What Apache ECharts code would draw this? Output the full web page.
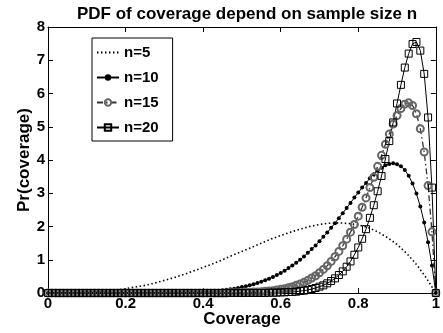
<!DOCTYPE html>
<html>
<head>
<meta charset="utf-8">
<script src="https://cdn.jsdelivr.net/npm/echarts@6/dist/echarts.min.js"></script>
<style>
  html, body { margin: 0; padding: 0; background: #fff; }
  #chart { width: 443px; height: 333px; }
</style>
</head>
<body>
<div id="chart"></div>
<script>
// coverage grid for the marked curves (step 0.01)
var cov101 = [
  0, 0.01, 0.02, 0.03, 0.04, 0.05, 0.06, 0.07, 0.08, 0.09,
  0.10, 0.11, 0.12, 0.13, 0.14, 0.15, 0.16, 0.17, 0.18, 0.19,
  0.20, 0.21, 0.22, 0.23, 0.24, 0.25, 0.26, 0.27, 0.28, 0.29,
  0.30, 0.31, 0.32, 0.33, 0.34, 0.35, 0.36, 0.37, 0.38, 0.39,
  0.40, 0.41, 0.42, 0.43, 0.44, 0.45, 0.46, 0.47, 0.48, 0.49,
  0.50, 0.51, 0.52, 0.53, 0.54, 0.55, 0.56, 0.57, 0.58, 0.59,
  0.60, 0.61, 0.62, 0.63, 0.64, 0.65, 0.66, 0.67, 0.68, 0.69,
  0.70, 0.71, 0.72, 0.73, 0.74, 0.75, 0.76, 0.77, 0.78, 0.79,
  0.80, 0.81, 0.82, 0.83, 0.84, 0.85, 0.86, 0.87, 0.88, 0.89,
  0.90, 0.91, 0.92, 0.93, 0.94, 0.95, 0.96, 0.97, 0.98, 0.99,
  1.00
];
// coverage grid for the dotted n=5 curve
var cov41 = [
  0, 0.025, 0.05, 0.075, 0.1, 0.125, 0.15, 0.175, 0.2, 0.225,
  0.25, 0.275, 0.3, 0.325, 0.35, 0.375, 0.4, 0.425, 0.45, 0.475,
  0.5, 0.525, 0.55, 0.575, 0.6, 0.625, 0.65, 0.675, 0.7, 0.725,
  0.75, 0.775, 0.8, 0.825, 0.85, 0.875, 0.9, 0.925, 0.95, 0.975,
  1
];

var pdf5 = [
  0, 0, 0, 0.01, 0.02, 0.03, 0.06, 0.09, 0.13, 0.18,
  0.23, 0.30, 0.38, 0.46, 0.56, 0.66, 0.77, 0.88, 1.00, 1.13,
  1.25, 1.37, 1.50, 1.62, 1.73, 1.83, 1.92, 2.00, 2.06, 2.10,
  2.11, 2.09, 2.05, 1.97, 1.84, 1.67, 1.46, 1.19, 0.86, 0.46,
  0
];
var pdf10 = [
  0, 0, 0, 0, 0, 0, 0, 0, 0, 0,
  0, 0, 0, 0, 0, 0, 0, 0, 0, 0,
  0, 0, 0, 0, 0, 0, 0, 0, 0, 0,
  0, 0.01, 0.01, 0.01, 0.01, 0.01, 0.02, 0.02, 0.02, 0.03,
  0.04, 0.04, 0.05, 0.06, 0.07, 0.08, 0.10, 0.11, 0.13, 0.15,
  0.18, 0.20, 0.23, 0.26, 0.30, 0.34, 0.38, 0.43, 0.48, 0.54,
  0.60, 0.67, 0.75, 0.83, 0.91, 1.00, 1.10, 1.21, 1.32, 1.43,
  1.56, 1.69, 1.82, 1.96, 2.10, 2.25, 2.40, 2.56, 2.71, 2.87,
  3.02, 3.17, 3.31, 3.45, 3.57, 3.68, 3.77, 3.84, 3.88, 3.90,
  3.87, 3.81, 3.70, 3.53, 3.29, 2.99, 2.60, 2.12, 1.53, 0.83,
  0
];
var pdf15 = [
  0, 0, 0, 0, 0, 0, 0, 0, 0, 0,
  0, 0, 0, 0, 0, 0, 0, 0, 0, 0,
  0, 0, 0, 0, 0, 0, 0, 0, 0, 0,
  0, 0, 0, 0, 0, 0, 0, 0, 0, 0,
  0, 0, 0, 0, 0, 0, 0, 0.01, 0.01, 0.01,
  0.01, 0.02, 0.02, 0.03, 0.03, 0.04, 0.05, 0.06, 0.07, 0.09,
  0.11, 0.13, 0.16, 0.19, 0.23, 0.27, 0.32, 0.38, 0.45, 0.52,
  0.61, 0.71, 0.82, 0.95, 1.09, 1.25, 1.42, 1.62, 1.83, 2.06,
  2.31, 2.58, 2.86, 3.17, 3.48, 3.81, 4.14, 4.47, 4.78, 5.08,
  5.34, 5.55, 5.68, 5.72, 5.64, 5.39, 4.94, 4.24, 3.23, 1.84,
  0
];
var pdf20 = [
  0, 0, 0, 0, 0, 0, 0, 0, 0, 0,
  0, 0, 0, 0, 0, 0, 0, 0, 0, 0,
  0, 0, 0, 0, 0, 0, 0, 0, 0, 0,
  0, 0, 0, 0, 0, 0, 0, 0, 0, 0,
  0, 0, 0, 0, 0, 0, 0, 0, 0, 0,
  0, 0, 0, 0, 0, 0, 0, 0.01, 0.01, 0.01,
  0.02, 0.02, 0.03, 0.03, 0.04, 0.06, 0.07, 0.09, 0.12, 0.15,
  0.19, 0.23, 0.29, 0.36, 0.44, 0.54, 0.65, 0.79, 0.95, 1.15,
  1.37, 1.63, 1.92, 2.26, 2.64, 3.06, 3.52, 4.03, 4.57, 5.13,
  5.70, 6.26, 6.78, 7.20, 7.49, 7.55, 7.29, 6.59, 5.28, 3.17,
  0
];

var xTicks = [0, 0.2, 0.4, 0.6, 0.8, 1];
var yTicks = [0, 1, 2, 3, 4, 5, 6, 7, 8];

function pairs(xs, ys) {
  return xs.map(function (x, i) { return [x, ys[i]]; });
}

var font = 'Liberation Sans, Arial, sans-serif';
var chart = echarts.init(document.getElementById('chart'), null, { renderer: 'canvas' });

var axisCommon = {
  type: 'value',
  axisLine: { show: true, onZero: false, lineStyle: { color: '#000', width: 1 } },
  axisTick: { show: true, inside: true, length: 5, lineStyle: { color: '#000' } },
  splitLine: { show: false }
};

var option = {
  backgroundColor: '#ffffff',
  animation: false,
  title: {
    text: 'PDF of coverage depend on sample size n',
    left: 72,
    top: 1,
    textStyle: { fontFamily: font, fontWeight: 'bold', fontSize: 17, color: '#000' }
  },
  legend: {
    orient: 'vertical',
    left: 92,
    top: 38,
    padding: [7, 14, 6, 4],
    itemWidth: 22,
    itemHeight: 8,
    itemGap: 10,
    backgroundColor: '#fff',
    borderColor: '#000',
    borderWidth: 1,
    textStyle: { fontFamily: font, fontWeight: 'bold', fontSize: 15, color: '#000' },
    data: [
      { name: 'n=5', itemStyle: { opacity: 0 } },
      'n=10', 'n=15', 'n=20'
    ]
  },
  grid: { left: 48, right: 7, top: 27, bottom: 39 },
  xAxis: [
    Object.assign({}, axisCommon, {
      position: 'bottom',
      min: xTicks[0], max: xTicks[xTicks.length - 1], interval: 0.2,
      name: 'Coverage',
      nameLocation: 'middle',
      nameGap: 18,
      nameMoveOverlap: false,
      nameTextStyle: { fontFamily: font, fontWeight: 'bold', fontSize: 17, color: '#000' },
      axisLabel: { fontFamily: font, fontWeight: 'bold', fontSize: 15, color: '#000', margin: 3 }
    }),
    Object.assign({}, axisCommon, {
      position: 'top',
      min: xTicks[0], max: xTicks[xTicks.length - 1], interval: 0.2,
      axisLabel: { show: false }
    })
  ],
  yAxis: [
    Object.assign({}, axisCommon, {
      position: 'left',
      min: yTicks[0], max: yTicks[yTicks.length - 1], interval: 1,
      name: 'Pr(coverage)',
      nameLocation: 'middle',
      nameGap: 15,
      nameMoveOverlap: false,
      nameTextStyle: { fontFamily: font, fontWeight: 'bold', fontSize: 17, color: '#000' },
      axisLabel: { fontFamily: font, fontWeight: 'bold', fontSize: 15, color: '#000', margin: 3 }
    }),
    Object.assign({}, axisCommon, {
      position: 'right',
      min: yTicks[0], max: yTicks[yTicks.length - 1], interval: 1,
      axisLabel: { show: false }
    })
  ],
  series: [
    {
      name: 'n=5',
      type: 'line',
      data: pairs(cov41, pdf5),
      symbol: 'none',
      lineStyle: { color: '#000', width: 1.6, type: [1.5, 2.5] },
      itemStyle: { color: '#000' }
    },
    {
      name: 'n=10',
      type: 'line',
      data: pairs(cov101, pdf10),
      symbol: 'circle',
      symbolSize: 4,
      showAllSymbol: true,
      lineStyle: { color: '#000', width: 1 },
      itemStyle: { color: '#000' }
    },
    {
      name: 'n=15',
      type: 'line',
      data: pairs(cov101, pdf15),
      symbol: 'circle',
      symbolSize: 7,
      showAllSymbol: true,
      lineStyle: { color: '#333', width: 1.3, type: [6, 3, 1.5, 3] },
      itemStyle: { color: 'rgba(0,0,0,0)', borderColor: '#666', borderWidth: 2 }
    },
    {
      name: 'n=20',
      type: 'line',
      data: pairs(cov101, pdf20),
      symbol: 'rect',
      symbolSize: 7,
      showAllSymbol: true,
      lineStyle: { color: '#000', width: 1 },
      itemStyle: { color: 'rgba(0,0,0,0)', borderColor: '#000', borderWidth: 1 }
    }
  ]
};

chart.setOption(option);
</script>
</body>
</html>
